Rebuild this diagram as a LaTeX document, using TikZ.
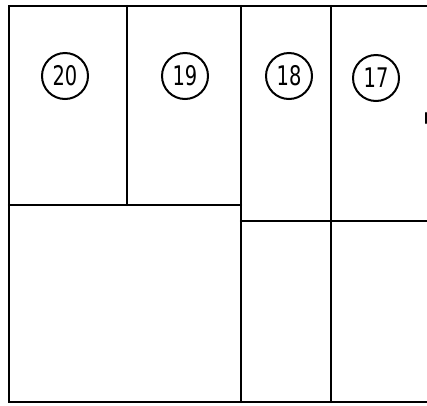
\documentclass[tikz,border=0pt]{standalone}
\usepackage{fontspec}
\setsansfont{DejaVu Sans}
\newcommand{\lotnum}[1]{\scalebox{0.72}[1]{#1}}
\begin{document}
\begin{tikzpicture}[x=1pt,y=-1pt,
  wall/.style={line width=2.4pt,line cap=round},
  lot/.style={circle,draw,line width=2pt,minimum size=46pt,inner sep=0pt,font=\sffamily\fontsize{27}{27}\selectfont}]
\useasboundingbox (0,0) rectangle (427,405);
% outline
\draw[wall] (427,6) -- (9,6) -- (9,402) -- (427,402);
% verticals
\draw[wall] (127,6) -- (127,205);
\draw[wall] (241,6) -- (241,402);
\draw[wall] (331,6) -- (331,402);
% horizontals
\draw[wall] (9,205) -- (241,205);
\draw[wall] (241,221) -- (427,221);
\draw[wall] (426,113) -- (426,123);
% lot numbers
\node[lot] (l20) at (65,76) {\lotnum{20}};
\node[lot] (l19) at (185,76) {\lotnum{19}};
\node[lot] (l18) at (289,76) {\lotnum{18}};
\node[lot] (l17) at (376,78) {\lotnum{17}};
\end{tikzpicture}
\end{document}
